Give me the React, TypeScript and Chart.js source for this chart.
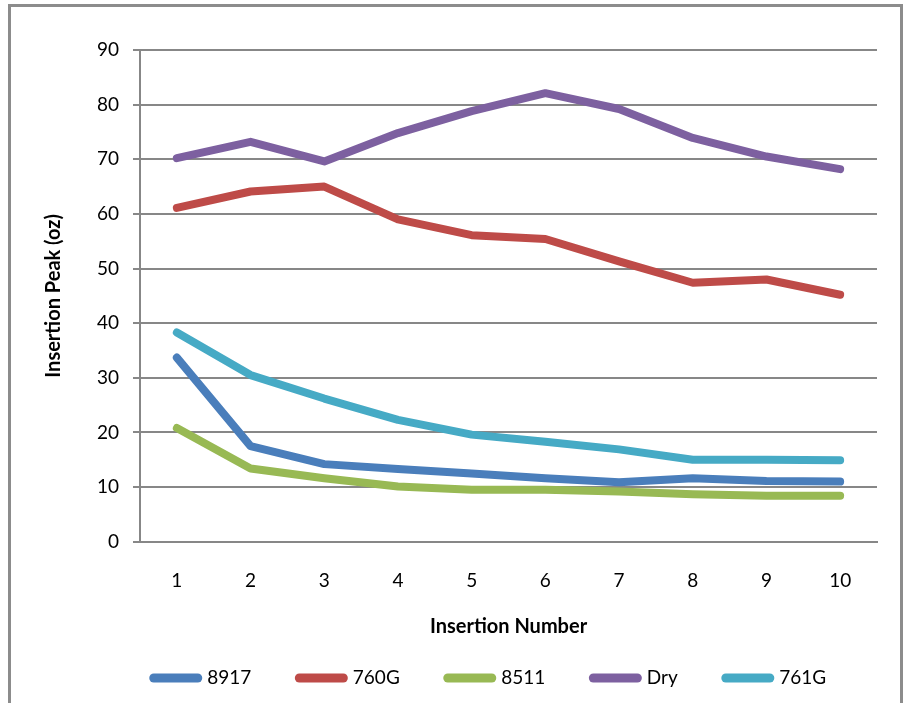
import React, { useEffect, useRef } from 'react';
import { Chart, registerables } from 'chart.js';

Chart.register(...registerables);

const categories = ['1', '2', '3', '4', '5', '6', '7', '8', '9', '10'];
const series8917 = [33.7, 17.5, 14.2, 13.3, 12.5, 11.6, 10.9, 11.6, 11.1, 11.0];
const series760G = [61.1, 64.1, 65.0, 59.0, 56.1, 55.4, 51.3, 47.4, 48.0, 45.2];
const series8511 = [20.8, 13.4, 11.6, 10.1, 9.5, 9.5, 9.2, 8.7, 8.4, 8.4];
const seriesDry = [70.2, 73.2, 69.6, 74.8, 78.8, 82.1, 79.2, 73.9, 70.5, 68.2];
const series761G = [38.3, 30.5, 26.2, 22.3, 19.6, 18.3, 16.9, 15.0, 15.0, 14.9];

const seriesNames = ['8917', '760G', '8511', 'Dry', '761G'];
const seriesValues = [series8917, series760G, series8511, seriesDry, series761G];
const seriesColors = ['#4A7EBB', '#BE4B48', '#98B954', '#7D60A0', '#46AAC5'];

const yMin = 0;
const yMax = 90;
const yStep = 10;

const xTitle = 'Insertion Number';
const yTitle = 'Insertion Peak (oz)';

const GRID = '#878787';
const FONT = 'Lato';

const legendPlacer = {
  id: 'legendPlacer',
  afterLayout(chart: any) {
    const lg = chart.legend;
    if (!lg) return;
    const cx = 490;
    const top = 620.5;
    lg.left = cx - 420;
    lg.right = cx + 420;
    lg.top = top;
    lg.bottom = 703;
  },
};

export default function App() {
  const ref = useRef<HTMLCanvasElement | null>(null);

  useEffect(() => {
    document.body.style.overflow = 'hidden';
    const canvas = ref.current;
    if (!canvas) return;
    const chart = new Chart(canvas, {
      type: 'line',
      data: {
        labels: categories,
        datasets: seriesNames.map((name, i) => ({
          label: name,
          data: seriesValues[i],
          borderColor: seriesColors[i],
          backgroundColor: seriesColors[i],
          borderWidth: 8,
          pointRadius: 0,
          pointHoverRadius: 0,
          tension: 0,
          fill: false,
          borderCapStyle: 'round' as const,
          borderJoinStyle: 'round' as const,
        })),
      },
      options: {
        animation: false,
        responsive: false,
        events: [],
        layout: { padding: { left: 42, right: 27, top: 50, bottom: 0 } },
        plugins: {
          legend: {
            position: 'bottom',
            maxHeight: 64,
            labels: {
              usePointStyle: true,
              pointStyle: 'line',
              pointStyleWidth: 44,
              padding: 48,
              color: '#000',
              font: { family: FONT, size: 19 },
              generateLabels: (c: any) =>
                (Chart.defaults.plugins.legend.labels as any)
                  .generateLabels(c)
                  .map((it: any) => ({ ...it, lineCap: 'round', lineWidth: 9 })),
            },
          },
          tooltip: { enabled: false },
        },
        scales: {
          x: {
            type: 'category',
            offset: true,
            grid: { display: false, drawTicks: false },
            border: { display: true, color: GRID, width: 2 },
            ticks: { padding: 28, color: '#000', font: { family: FONT, size: 19 }, maxRotation: 0 },
            title: {
              display: true,
              text: xTitle,
              color: '#000',
              font: { family: FONT, size: 20, weight: 'bold' },
              padding: { top: 22, bottom: 0 },
            },
            afterFit: (s: any) => {
              s.height = 97.3;
            },
          },
          y: {
            min: yMin,
            max: yMax,
            ticks: { stepSize: yStep, padding: 14, color: '#000', font: { family: FONT, size: 19 } },
            grid: { color: GRID, lineWidth: 2, drawTicks: true, tickLength: 7 },
            border: { display: true, color: GRID, width: 2 },
            title: {
              display: true,
              text: yTitle,
              color: '#000',
              font: { family: FONT, size: 20, weight: 'bold' },
              padding: { top: 0, bottom: 30 },
            },
            afterFit: (s: any) => {
              s.width = 98;
            },
          },
        },
      },
      plugins: [legendPlacer],
    });
    return () => chart.destroy();
  }, []);

  return (
    <>
      <div
        style={{
          position: 'fixed',
          left: 8,
          top: 4,
          width: 895,
          height: 710,
          boxSizing: 'border-box',
          border: '3px solid #8C8C8C',
          borderBottom: 'none',
        }}
      />
      <canvas
        ref={ref}
        width={904}
        height={703}
        style={{ position: 'fixed', left: 0, top: 0, width: 904, height: 703 }}
      />
    </>
  );
}
